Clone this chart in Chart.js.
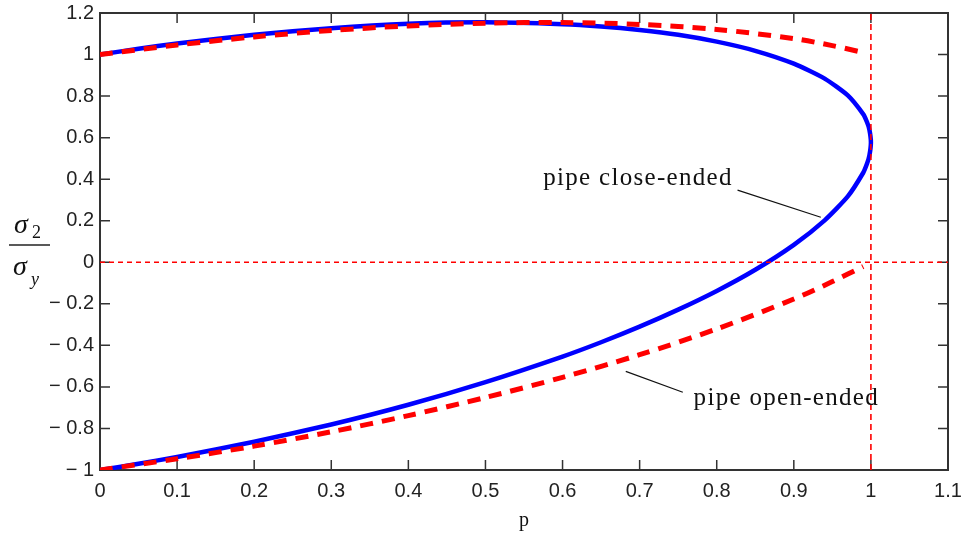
<!DOCTYPE html>
<html lang="en">
<head>
    <meta charset="UTF-8">
    <title>pipe close-ended / open-ended</title>
    <script src="https://cdn.jsdelivr.net/npm/chart.js"></script>
    <style>
        html, body { margin: 0; padding: 0; background: #fff; }
        #wrap { width: 964px; height: 543px; }
    </style>
</head>
<body>
    <div id="wrap"><canvas id="chart" width="964" height="543"></canvas></div>
    <script>
        // values
        var closeP     = [0, 0.05, 0.1, 0.2, 0.3, 0.4, 0.5, 0.6, 0.65, 0.7, 0.75, 0.8, 0.85, 0.9, 0.94, 0.97, 0.99, 0.995, 0.998, 1.0,
                          0.998, 0.995, 0.99, 0.97, 0.94, 0.9, 0.85, 0.8, 0.75, 0.7, 0.65, 0.6, 0.5, 0.4, 0.3, 0.2, 0.1, 0.05, 0];
        var closeSigma = [-1.0, -0.970, -0.937, -0.864, -0.781, -0.686, -0.577, -0.454, -0.385, -0.310, -0.228, -0.138, -0.036, 0.084, 0.202, 0.317, 0.431, 0.475, 0.513, 0.577,
                          0.639, 0.674, 0.713, 0.803, 0.884, 0.956, 1.018, 1.062, 1.095, 1.118, 1.135, 1.146, 1.155, 1.148, 1.127, 1.095, 1.053, 1.028, 1.0];

        var openP          = [0, 0.1, 0.2, 0.3, 0.4, 0.5, 0.6, 0.7, 0.8, 0.9, 0.95, 0.985];
        var openSigmaUpper = [1.0, 1.046, 1.085, 1.116, 1.138, 1.151, 1.154, 1.145, 1.121, 1.077, 1.043, 1.014];
        var openPLower     = [0, 0.1, 0.2, 0.3, 0.4, 0.5, 0.6, 0.7, 0.8, 0.9, 0.95, 0.99];
        var openSigmaLower = [-1.0, -0.946, -0.885, -0.816, -0.738, -0.651, -0.554, -0.445, -0.321, -0.177, -0.093, -0.020];

        // reference lines: sigma = 0 and p = 1
        var zeroLineP = [0, 1.1];
        var zeroLineS = [0, 0];
        var unitLineP = [1, 1];
        var unitLineS = [-1, 1.2];

        var xTicks = [0, 0.1, 0.2, 0.3, 0.4, 0.5, 0.6, 0.7, 0.8, 0.9, 1, 1.1];
        var yTicks = [-1, -0.8, -0.6, -0.4, -0.2, 0, 0.2, 0.4, 0.6, 0.8, 1, 1.2];

        function pts(xs, ys) {
            return xs.map(function (x, i) { return { x: x, y: ys[i] }; });
        }

        function fmt(v) {
            var r = Math.round(v * 10) / 10;
            if (r < 0) return '\u2212 ' + String(-r);
            return String(r);
        }

        // frame with inward ticks on all four sides
        var framePlugin = {
            id: 'frame',
            beforeDatasetsDraw: function (chart) {
                var ctx = chart.ctx, a = chart.chartArea;
                var xs = chart.scales.x, ys = chart.scales.y;
                ctx.save();
                ctx.strokeStyle = '#333';
                ctx.lineWidth = 2;
                ctx.strokeRect(a.left, a.top, a.right - a.left, a.bottom - a.top);
                ctx.lineWidth = 1.5;
                ctx.beginPath();
                xTicks.forEach(function (t) {
                    var px = xs.getPixelForValue(t);
                    ctx.moveTo(px, a.bottom); ctx.lineTo(px, a.bottom - 10);
                    ctx.moveTo(px, a.top); ctx.lineTo(px, a.top + 10);
                });
                yTicks.forEach(function (t) {
                    var py = ys.getPixelForValue(t);
                    ctx.moveTo(a.left, py); ctx.lineTo(a.left + 10, py);
                    ctx.moveTo(a.right, py); ctx.lineTo(a.right - 10, py);
                });
                ctx.stroke();
                ctx.restore();
            }
        };

        // axis titles and the two callouts
        var textPlugin = {
            id: 'texts',
            afterDraw: function (chart) {
                var ctx = chart.ctx;
                var xs = chart.scales.x, ys = chart.scales.y;
                ctx.save();
                ctx.fillStyle = '#111';
                ctx.textBaseline = 'middle';

                // x title
                ctx.font = '20px "Liberation Serif"';
                ctx.textAlign = 'center';
                ctx.fillText('p', 524, 521);

                // y title as a fraction sigma2 / sigmay
                ctx.textAlign = 'left';
                ctx.font = 'italic 28px "Liberation Serif"';
                ctx.fillText('\u03c3', 14, 226);
                ctx.fillText('\u03c3', 13, 268);
                ctx.font = '18px "Liberation Serif"';
                ctx.fillText('2', 32, 233);
                ctx.font = 'italic 18px "Liberation Serif"';
                ctx.fillText('y', 31, 280);
                ctx.strokeStyle = '#222';
                ctx.lineWidth = 1.5;
                ctx.beginPath();
                ctx.moveTo(9, 245); ctx.lineTo(50, 245);
                ctx.stroke();

                // callouts
                ctx.font = '25px "Liberation Serif"';
                ctx.letterSpacing = '1.3px';
                ctx.fillText('pipe close-ended', xs.getPixelForValue(0.575), ys.getPixelForValue(0.405));
                ctx.fillText('pipe open-ended', xs.getPixelForValue(0.770), ys.getPixelForValue(-0.655));
                ctx.lineWidth = 1.2;
                ctx.strokeStyle = '#111';
                ctx.beginPath();
                ctx.moveTo(xs.getPixelForValue(0.827), ys.getPixelForValue(0.347));
                ctx.lineTo(xs.getPixelForValue(0.935), ys.getPixelForValue(0.217));
                ctx.moveTo(xs.getPixelForValue(0.682), ys.getPixelForValue(-0.525));
                ctx.lineTo(xs.getPixelForValue(0.756), ys.getPixelForValue(-0.626));
                ctx.stroke();
                ctx.restore();
            }
        };

        var ctx = document.getElementById('chart').getContext('2d');
        var chart = new Chart(ctx, {
            type: 'scatter',
            data: {
                datasets: [
                    {
                        data: pts(zeroLineP, zeroLineS),
                        showLine: true, borderColor: '#ff0000', borderWidth: 1.6,
                        borderDash: [5, 4], pointRadius: 0
                    },
                    {
                        data: pts(unitLineP, unitLineS),
                        showLine: true, borderColor: '#ff0000', borderWidth: 1.6,
                        borderDash: [6, 4], pointRadius: 0
                    },
                    {
                        data: pts(openP, openSigmaUpper),
                        showLine: true, borderColor: '#ff0000', borderWidth: 5,
                        borderDash: [13, 9], pointRadius: 0, tension: 0.3
                    },
                    {
                        data: pts(openPLower, openSigmaLower),
                        showLine: true, borderColor: '#ff0000', borderWidth: 5,
                        borderDash: [13, 9], pointRadius: 0, tension: 0.3
                    },
                    {
                        data: pts(closeP, closeSigma),
                        showLine: true, borderColor: '#0000ff', borderWidth: 4.5,
                        pointRadius: 0, tension: 0.2
                    }
                ]
            },
            options: {
                responsive: false,
                animation: false,
                layout: { padding: { top: 13, right: 16, left: 0, bottom: 0 } },
                plugins: {
                    legend: { display: false },
                    tooltip: { enabled: false }
                },
                scales: {
                    x: {
                        type: 'linear', min: 0, max: 1.1,
                        grid: { display: false, drawTicks: false },
                        border: { display: false },
                        afterBuildTicks: function (s) { s.ticks = xTicks.map(function (v) { return { value: v }; }); },
                        afterFit: function (s) { s.height = 73; s.paddingLeft = 0; s.paddingRight = 0; },
                        ticks: {
                            autoSkip: false, maxRotation: 0, padding: 9,
                            color: '#222', font: { family: 'Liberation Sans', size: 20 },
                            callback: function (v) { return fmt(v); }
                        }
                    },
                    y: {
                        type: 'linear', min: -1, max: 1.2,
                        grid: { display: false, drawTicks: false },
                        border: { display: false },
                        afterBuildTicks: function (s) { s.ticks = yTicks.map(function (v) { return { value: v }; }); },
                        afterFit: function (s) { s.width = 100; s.paddingTop = 0; s.paddingBottom = 0; },
                        ticks: {
                            autoSkip: false, padding: 6,
                            color: '#222', font: { family: 'Liberation Sans', size: 20 },
                            callback: function (v) { return fmt(v); }
                        }
                    }
                }
            },
            plugins: [framePlugin, textPlugin]
        });
    </script>
</body>
</html>
